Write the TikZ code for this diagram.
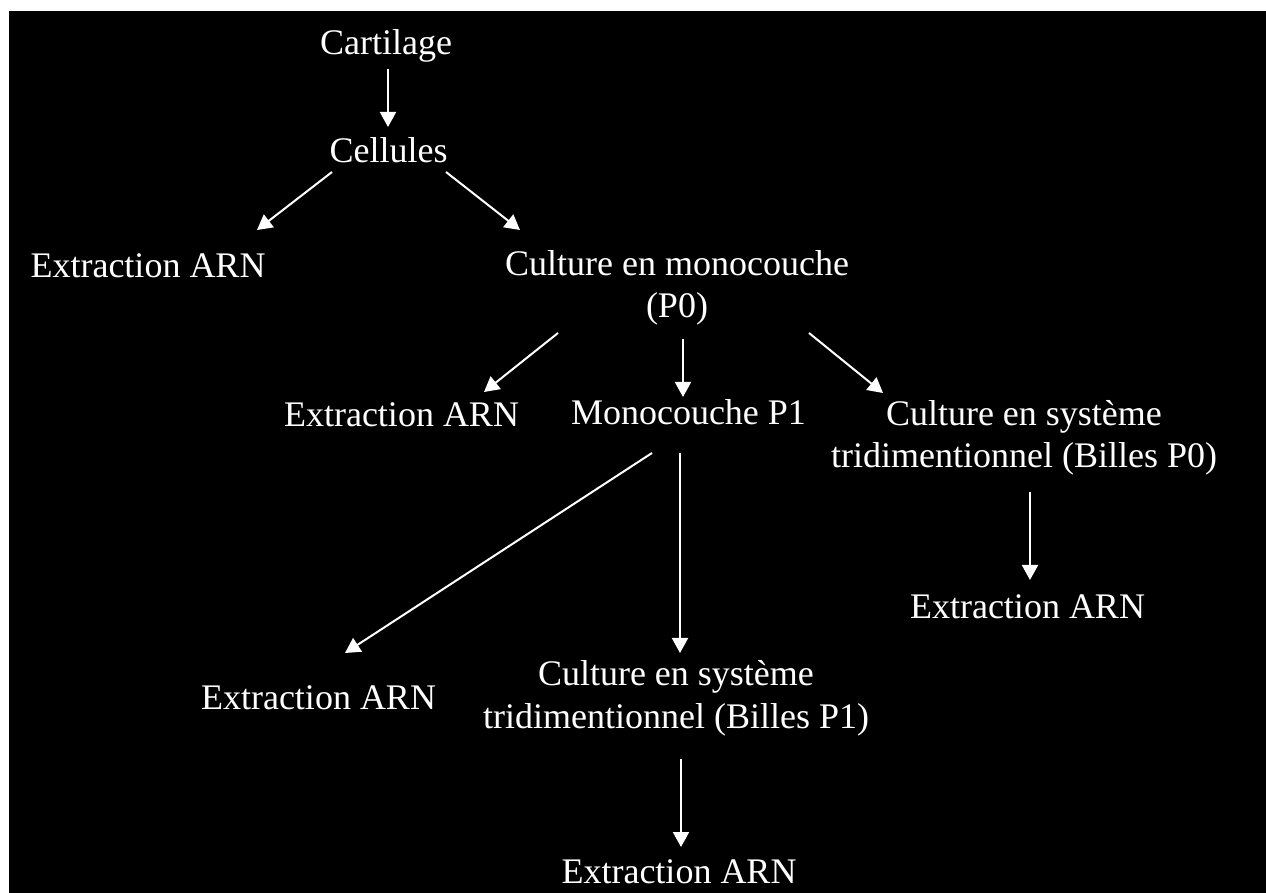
\documentclass[tikz,border=0pt]{standalone}
\usepackage{fontspec}
\setmainfont{Liberation Serif}
\usetikzlibrary{arrows.meta,calc}
\begin{document}
\begin{tikzpicture}[x=0.5pt,y=-0.5pt,
  lbl/.style={text=white,inner sep=0pt,anchor=base,align=center,
    font=\fontsize{18}{21.3}\selectfont},
  arr/.style={draw=white,line width=1pt,-{Triangle[width=8pt,length=7.5pt]}}]
\useasboundingbox (0,0) rectangle (1266,893);
\fill[white] (0,0) rectangle (1266,893);
\fill[black] (9,11) rectangle (1266,893);
\node[lbl] (cart) at (386,55) {Cartilage};
\node[lbl] (cel) at (388.5,163) {Cellules};
\node[lbl] (ex1) at (148,278) {Extraction ARN};
\node[lbl] (mono0) at (677,318) {Culture en monocouche\\(P0)};
\node[lbl] (ex2) at (401.5,427) {Extraction ARN};
\node[lbl] (mono1) at (688.5,425) {Monocouche P1};
\node[lbl] (bil0) at (1024,468) {Culture en système\\tridimentionnel (Billes P0)};
\node[lbl] (ex3) at (1027.5,618) {Extraction ARN};
\node[lbl] (ex4) at (318.5,710) {Extraction ARN};
\node[lbl] (bil1) at (676,728) {Culture en système\\tridimentionnel (Billes P1)};
\node[lbl] (ex5) at (679,883) {Extraction ARN};
\draw[arr] ($(cart.base)+(2,14)$) -- ($(cel.base)+(-0.5,-36)$);
\draw[arr] ($(cel.base)+(-56.5,9)$) -- ($(ex1.base)+(109,-48)$);
\draw[arr] ($(cel.base)+(57.5,9)$) -- ($(mono0.base)+(-157,-88)$);
\draw[arr] ($(mono0.base)+(-119,15)$) -- ($(ex2.base)+(82.5,-35)$);
\draw[arr] ($(mono0.base)+(6,21)$) -- ($(mono1.base)+(-5.5,-28)$);
\draw[arr] ($(mono0.base)+(132,15)$) -- ($(bil0.base)+(-141,-75)$);
\draw[arr] ($(mono1.base)+(-36.5,28)$) -- ($(ex4.base)+(26.5,-57)$);
\draw[arr] ($(mono1.base)+(-8.5,28)$) -- ($(bil1.base)+(4,-75)$);
\draw[arr] ($(bil1.base)+(5,31)$) -- ($(ex5.base)+(2,-36)$);
\draw[arr] ($(bil0.base)+(6,24)$) -- ($(ex3.base)+(2.5,-38)$);
\end{tikzpicture}
\end{document}
